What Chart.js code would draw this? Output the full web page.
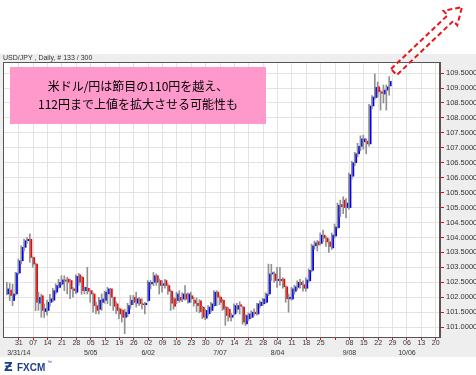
<!DOCTYPE html>
<html>
<head>
<meta charset="utf-8">
<script src="https://cdn.jsdelivr.net/npm/chart.js@4.4.0/dist/chart.umd.min.js"></script>
<style>
  html, body { margin: 0; padding: 0; background: #fff; }
</style>
</head>
<body>
<canvas id="chart" width="476" height="375"></canvas>
<script>
// USD/JPY daily candles, 2014-03-25 .. 2014-09-26
var opens = [102.11,102.24,101.89,102.11,102.81,103.22,103.67,103.89,103.94,103.33,
  103.11,101.80,102.05,101.52,101.56,101.83,101.90,102.17,102.33,102.44,
  102.58,102.61,102.56,102.28,102.17,102.75,102.67,102.22,102.30,102.22,
  102.11,101.72,101.60,101.83,101.90,102.11,102.28,102.00,101.78,101.61,
  101.56,101.33,101.45,101.75,102.00,101.80,101.94,101.78,101.75,101.89,
  102.45,102.50,102.72,102.56,102.40,102.56,102.39,102.20,101.95,101.89,
  102.00,101.94,102.11,101.83,102.05,101.90,101.80,101.88,101.67,101.30,
  101.45,101.56,101.72,102.17,102.00,101.90,101.67,101.60,101.33,101.44,
  101.60,101.75,101.67,101.11,101.28,101.33,101.50,101.44,101.72,101.78,
  101.83,102.11,102.78,102.78,102.56,102.60,102.61,102.35,101.95,101.94,
  102.20,102.33,102.50,102.42,102.30,102.55,102.90,103.72,103.86,103.80,
  104.08,103.98,103.85,103.65,104.05,104.33,105.10,105.25,105.00,105.00,
  106.05,106.50,106.80,107.05,107.20,107.22,107.13,108.40,108.68,109.04,
  108.87,108.80,108.93,109.07];
var highs = [102.50,102.47,102.44,102.83,103.28,103.72,103.95,104.00,104.12,103.35,
  103.15,102.17,102.10,101.78,101.90,102.10,102.30,102.45,102.60,102.72,
  102.72,102.67,102.60,102.33,102.75,102.80,102.70,102.35,103.00,102.25,
  102.15,101.85,102.00,102.11,102.20,102.33,102.30,102.00,101.85,101.65,
  101.60,101.60,101.80,102.06,102.06,102.17,102.00,101.95,101.83,102.56,
  102.56,102.83,102.78,102.61,102.56,102.60,102.45,102.25,102.00,102.17,
  102.22,102.15,102.39,102.15,102.17,102.00,101.98,101.92,101.70,101.60,
  101.72,101.83,102.22,102.22,102.05,101.94,101.70,101.65,101.46,101.78,
  101.80,101.85,101.70,101.42,101.48,101.55,101.61,101.80,101.88,101.96,
  102.15,103.11,103.10,102.85,103.00,103.00,102.65,102.38,102.11,102.33,
  102.40,102.55,102.60,102.55,102.65,102.95,103.78,103.88,103.90,104.15,
  104.25,104.05,103.95,104.15,104.45,105.15,105.25,105.36,105.30,106.15,
  106.55,106.85,107.15,107.40,107.42,107.30,108.45,108.75,109.47,109.20,
  108.93,109.10,109.10,109.38];
var lows = [102.08,101.89,101.72,102.06,102.76,103.11,103.55,103.80,103.17,103.00,
  101.55,101.56,101.33,101.32,101.40,101.70,101.85,102.10,102.30,102.40,
  102.22,102.11,101.95,102.00,102.12,102.40,102.10,102.11,102.11,101.83,
  101.50,101.45,101.44,101.56,101.80,101.78,101.72,101.56,101.45,101.28,
  101.17,100.78,101.35,101.61,101.75,101.67,101.72,101.61,101.44,101.85,
  102.28,102.39,102.40,102.11,102.17,102.30,102.10,101.56,101.60,101.78,
  101.83,101.85,101.90,101.80,101.83,101.70,101.52,101.48,101.28,101.25,
  101.40,101.50,101.68,101.72,101.75,101.56,101.06,101.20,101.20,101.40,
  101.50,101.44,101.10,101.05,101.22,101.30,101.39,101.40,101.65,101.72,
  101.80,102.05,102.56,102.50,102.33,102.40,102.30,101.83,101.50,101.90,
  102.10,102.25,102.30,102.20,102.20,102.50,102.85,103.60,103.55,103.75,
  103.85,103.70,103.50,103.60,103.98,104.30,104.70,104.80,104.65,104.95,
  105.95,106.40,106.70,106.90,106.95,106.80,107.05,108.30,108.62,108.70,
  108.26,108.50,108.26,108.76];
var closes = [102.28,102.06,102.11,102.81,103.22,103.67,103.89,103.94,103.33,103.11,
  101.83,102.00,101.56,101.62,101.83,101.95,102.22,102.39,102.50,102.58,
  102.54,102.50,102.28,102.22,102.70,102.50,102.22,102.33,102.20,102.11,
  101.72,101.56,101.90,101.94,102.17,102.28,102.00,101.70,101.56,101.44,
  101.33,101.50,101.72,101.90,101.83,101.95,101.78,101.75,101.80,102.50,
  102.50,102.72,102.50,102.39,102.45,102.39,102.20,101.80,101.70,102.11,
  101.90,102.11,101.94,102.11,101.95,101.80,101.72,101.52,101.33,101.56,
  101.67,101.78,102.17,102.00,101.83,101.60,101.39,101.33,101.40,101.72,
  101.72,101.70,101.17,101.39,101.44,101.50,101.45,101.78,101.83,101.94,
  102.11,102.78,102.82,102.56,102.60,102.55,102.35,101.95,102.00,102.28,
  102.35,102.50,102.42,102.30,102.58,102.90,103.72,103.82,103.75,104.08,
  103.98,103.85,103.70,104.08,104.35,105.08,105.03,105.00,105.15,106.10,
  106.50,106.80,107.05,107.30,107.30,107.13,108.40,108.70,109.02,108.87,
  108.82,108.93,109.04,109.22];

// Monday tick labels from 3/31 to 10/20 (9/01 has a grid line but no label)
var weekLabels = ['31','07','14','21','28','05','12','19','26','02','09','16','23','30',
  '07','14','21','28','04','11','18','25','','08','15','22','29','06','13','20'];
var monthLabels = ['3/31/14','','','','','5/05','','','','6/02','','','','',
  '7/07','','','','8/04','','','','','9/08','','','','10/06','',''];

var title = 'USD/JPY , Daily, # 133 / 300';
var noteLines = ['米ドル/円は節目の110円を越え、', '112円まで上値を拡大させる可能性も'];

// trading days on the axis: 3/24 .. 10/21
var days = [];
var d = new Date(2014, 2, 24);
var end = new Date(2014, 9, 21);
while (d <= end) {
  if (d.getDay() > 0 && d.getDay() < 6) days.push(new Date(d));
  d.setDate(d.getDate() + 1);
}
var firstBar = 1;                       // 3/25
var firstTick = new Date(2014, 2, 31);  // first labelled Monday

var labels = [], tickLabels = [], gridOn = [];
var m = 0;
days.forEach(function (day) {
  labels.push((day.getMonth() + 1) + '/' + day.getDate());
  if (day.getDay() === 1 && day >= firstTick && m < weekLabels.length) {
    tickLabels.push(monthLabels[m] ? [weekLabels[m], monthLabels[m]] : weekLabels[m]);
    gridOn.push(true);
    m++;
  } else {
    tickLabels.push('');
    gridOn.push(false);
  }
});

var wicks = [], bodies = [], bodyColors = [];
days.forEach(function (day, i) {
  var k = i - firstBar;
  if (k >= 0 && k < opens.length) {
    wicks.push([lows[k], highs[k]]);
    bodies.push([opens[k], closes[k]]);
    bodyColors.push(closes[k] >= opens[k] ? '#0000ff' : '#ff0000');
  } else {
    wicks.push(null);
    bodies.push(null);
    bodyColors.push('#0000ff');
  }
});

var decor = {
  id: 'decor',
  beforeDraw: function (chart) {
    var c = chart.ctx, a = chart.chartArea;
    c.save();
    c.fillStyle = '#ffffff';
    c.fillRect(0, 0, 476, 375);
    c.fillStyle = '#eeeeee';
    c.fillRect(0, 54, 476, 303);
    c.fillStyle = '#ffffff';
    c.fillRect(a.left, a.top, a.right - a.left, a.bottom - a.top);
    c.fillStyle = '#333';
    c.font = '7px "Liberation Sans"';
    c.textBaseline = 'middle';
    c.fillText(title, 3, 58);
    c.restore();
  },
  afterDraw: function (chart) {
    var c = chart.ctx, a = chart.chartArea;
    c.save();
    // plot frame
    c.strokeStyle = '#555';
    c.lineWidth = 1;
    c.strokeRect(a.left + 0.5, a.top + 0.5, a.right - a.left - 1, a.bottom - a.top);
    // comment box
    c.fillStyle = '#ff99cc';
    c.fillRect(10, 67, 256, 57);
    c.fillStyle = '#000';
    c.font = '12px "Noto Sans CJK JP"';
    c.textAlign = 'center';
    c.textBaseline = 'middle';
    c.fillText(noteLines[0], 138, 86);
    c.fillText(noteLines[1], 138, 104);
    // dashed arrow
    c.strokeStyle = '#e8161b';
    c.lineWidth = 2;
    c.setLineDash([5, 3]);
    c.beginPath();
    c.moveTo(391, 69);
    c.lineTo(447.6, 15.2);
    c.lineTo(443.5, 10.9);
    c.lineTo(462, 7);
    c.lineTo(457.3, 25.3);
    c.lineTo(453.2, 21);
    c.lineTo(396.8, 75);
    c.closePath();
    c.stroke();
    c.setLineDash([]);
    // logo
    c.fillStyle = '#1d3f8f';
    c.textAlign = 'left';
    c.font = 'bold 12px "DejaVu Sans"';
    c.fillText('Ƶ', 4, 368);
    c.font = 'bold 10px "Liberation Sans"';
    c.fillText('FXCM', 17, 368);
    c.font = '5px "Liberation Sans"';
    c.fillText('™', 47, 363);
    c.restore();
  }
};

new Chart(document.getElementById('chart'), {
  type: 'bar',
  data: {
    labels: labels,
    datasets: [{
      data: wicks,
      backgroundColor: '#909090',
      barThickness: 1,
      borderWidth: 0
    }, {
      data: bodies,
      backgroundColor: bodyColors,
      barThickness: 1.6,
      borderWidth: 0
    }]
  },
  options: {
    responsive: false,
    animation: false,
    layout: { padding: { top: 62, left: 3, right: 0, bottom: 18 } },
    plugins: { legend: { display: false }, tooltip: { enabled: false } },
    scales: {
      x: {
        grid: {
          offset: false,
          color: function (ctx) { return gridOn[ctx.index] ? '#e3e3e3' : 'rgba(0,0,0,0)'; },
          tickColor: function (ctx) { return gridOn[ctx.index] ? '#ff0000' : 'rgba(0,0,0,0)'; },
          tickLength: 3
        },
        border: { color: '#555' },
        ticks: {
          autoSkip: false,
          maxRotation: 0,
          minRotation: 0,
          padding: -1,
          color: '#333',
          font: { family: 'Liberation Sans', size: 7, lineHeight: 1.3 },
          callback: function (v, i) { return tickLabels[i]; }
        },
        afterFit: function (s) { s.height = 20; }
      },
      y: {
        position: 'right',
        min: 100.67,
        max: 109.87,
        grid: { color: '#e3e3e3', tickColor: '#ff0000', tickLength: 4 },
        border: { color: '#555' },
        ticks: {
          stepSize: 0.5,
          includeBounds: false,
          padding: 2,
          color: '#333',
          font: { family: 'Liberation Sans', size: 7.5 },
          callback: function (v) { return v.toFixed(4); }
        },
        afterFit: function (s) { s.width = 36; }
      }
    }
  },
  plugins: [decor]
});
</script>
</body>
</html>
